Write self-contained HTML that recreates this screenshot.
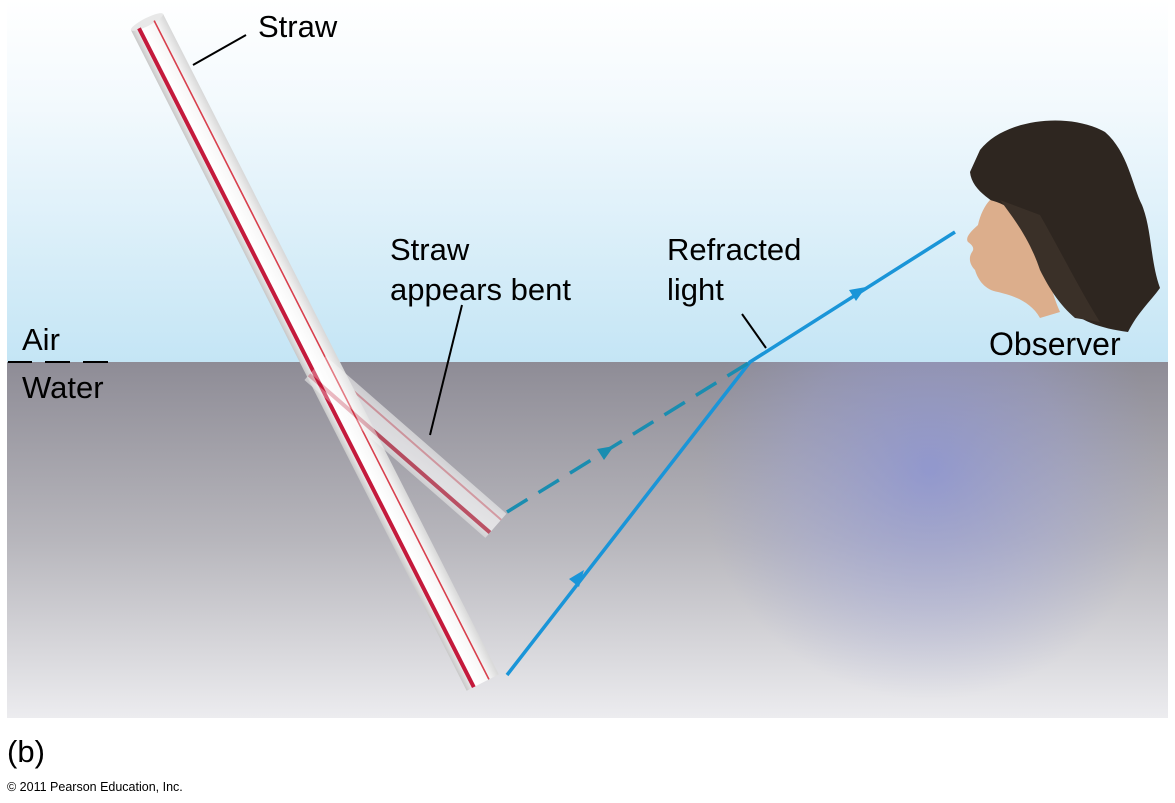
<!DOCTYPE html>
<html><head><meta charset="utf-8"><style>
body{margin:0;width:1175px;height:803px;background:#fff;overflow:hidden;font-family:"Liberation Sans",sans-serif}
svg{position:absolute;left:0;top:0}
</style></head><body>
<svg width="1175" height="803" viewBox="0 0 1175 803">
<defs>
<linearGradient id="air" x1="0" y1="0" x2="0" y2="1"><stop offset="0" stop-color="#ffffff"/><stop offset="0.3" stop-color="#f2f9fd"/><stop offset="1" stop-color="#c4e5f5"/></linearGradient>
<linearGradient id="water" x1="0" y1="0" x2="0" y2="1"><stop offset="0" stop-color="#8e8c96"/><stop offset="0.5" stop-color="#b7b6bc"/><stop offset="1" stop-color="#ececef"/></linearGradient>
<radialGradient id="tint" cx="0.5" cy="0.5" r="0.5"><stop offset="0" stop-color="#8a93d8" stop-opacity="0.75"/><stop offset="0.6" stop-color="#9aa0d8" stop-opacity="0.35"/><stop offset="1" stop-color="#9aa0d0" stop-opacity="0"/></radialGradient>
<linearGradient id="straw" x1="0" y1="0" x2="0" y2="1"><stop offset="0" stop-color="#d8d8d8"/><stop offset="0.3" stop-color="#f6f6f6"/><stop offset="0.7" stop-color="#ffffff"/><stop offset="1" stop-color="#c8c8c8"/></linearGradient>
<clipPath id="wclip"><rect x="7" y="362" width="1161" height="356"/></clipPath>
</defs>
<rect x="7" y="0" width="1161" height="362" fill="url(#air)"/>
<rect x="7" y="362" width="1161" height="356" fill="url(#water)"/>
<ellipse cx="930" cy="470" rx="230" ry="230" fill="url(#tint)" clip-path="url(#wclip)"/>

<g transform="translate(315,368) rotate(41.1)" opacity="0.5">
<rect x="0" y="-16" width="240" height="32" fill="url(#straw)"/>
<line x1="0" y1="9" x2="240" y2="9" stroke="#c0203a" stroke-width="4"/>
<line x1="0" y1="-8" x2="240" y2="-8" stroke="#d03040" stroke-width="2"/>
</g>
<g transform="translate(147,22) rotate(63.06)">
<rect x="0" y="-18" width="741" height="36" fill="url(#straw)"/>
<ellipse cx="0" cy="0" rx="4" ry="18" fill="#e8e8e8"/>
<line x1="2" y1="10" x2="741" y2="10" stroke="#c41a3c" stroke-width="4"/>
<line x1="2" y1="-7" x2="741" y2="-7" stroke="#d8404e" stroke-width="1.6"/>
</g>
<g transform="translate(315,368) rotate(41.1)" opacity="0.3">
<rect x="0" y="-16" width="240" height="32" fill="#fff"/>
<line x1="0" y1="9" x2="240" y2="9" stroke="#c0203a" stroke-width="4"/>
</g>

<polyline points="507,675 750,362 955,232" fill="none" stroke="#1a95d8" stroke-width="3.5"/>
<line x1="507" y1="512" x2="750" y2="362" stroke="#1a8db0" stroke-width="3.5" stroke-dasharray="24 13"/>
<polygon points="584,570 569,579 579,587" fill="#1a95d8"/>
<polygon points="866,287 849,290 856,301" fill="#1a95d8"/>
<polygon points="614,446 597,449 604,460" fill="#1a8db0"/>

<path d="M980,150 C1005,118 1070,112 1105,132 C1128,152 1132,185 1142,205 C1152,230 1150,260 1160,288 C1150,302 1138,312 1128,332 C1100,328 1080,322 1060,302 C1045,272 1030,242 1015,217 C995,202 972,192 970,172 Z" fill="#2e2620"/>
<path d="M990,200 C985,205 980,215 978,225 C970,232 965,238 968,242 C972,245 975,248 972,252 C968,258 970,265 975,270 C978,280 985,290 998,292 C1010,295 1030,300 1040,318 L1060,312 C1050,290 1045,260 1040,240 C1030,220 1010,205 990,200 Z" fill="#dcae8c"/>
<path d="M1000,200 C1015,220 1030,240 1040,270 C1050,290 1060,305 1075,318 L1100,322 C1080,290 1060,250 1040,215 Z" fill="#3a3028"/>

<g stroke="#000" stroke-width="2"><line x1="193" y1="65" x2="246" y2="35"/><line x1="462" y1="305" x2="430" y2="435"/><line x1="742" y1="314" x2="766" y2="348"/>
<line x1="8" y1="362" x2="32" y2="362"/><line x1="45" y1="362" x2="70" y2="362"/><line x1="83" y1="362" x2="108" y2="362"/></g>

<g font-size="31" fill="#000">
<text x="258" y="37">Straw</text>
<text x="390" y="260">Straw</text>
<text x="390" y="300">appears bent</text>
<text x="667" y="260">Refracted</text>
<text x="667" y="300">light</text>
<text x="22" y="350">Air</text>
<text x="22" y="398">Water</text>
<text x="989" y="355" font-size="32">Observer</text>
<text x="7" y="762">(b)</text>
</g>
<text x="7" y="791" font-size="12.5" fill="#000">© 2011 Pearson Education, Inc.</text>
</svg>
</body></html>
